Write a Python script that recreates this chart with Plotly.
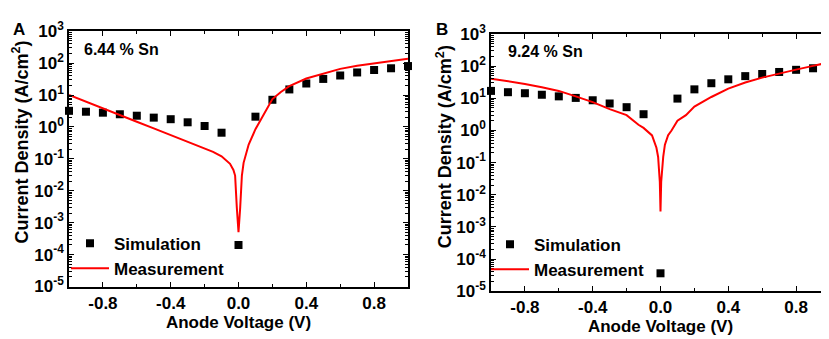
import plotly.graph_objects as go

# ---------------- data ----------------
sim_v = [-1.0, -0.9, -0.8, -0.7, -0.6, -0.5, -0.4, -0.3, -0.2, -0.1, 0.0,
         0.1, 0.2, 0.3, 0.4, 0.5, 0.6, 0.7, 0.8, 0.9, 1.0]
sim_a = [3.2, 3.0, 2.8, 2.5, 2.25, 1.96, 1.75, 1.4, 1.07, 0.66, 2.0e-4,
         2.1, 7.1, 15, 23, 32, 41, 51, 61, 69, 81]
sim_b = [17, 15.5, 14.4, 12.9, 11.5, 10.3, 8.7, 6.9, 5.3, 3.2, 3.6e-5,
         9.8, 19, 29.5, 39, 49, 57, 66, 77, 86, 96]

meas_a_v = [-1.0, -0.9, -0.8, -0.7, -0.6, -0.5, -0.4, -0.3, -0.2, -0.15, -0.1,
            -0.07, -0.05, -0.03, -0.02, -0.01, 0.0, 0.01, 0.02, 0.03, 0.06,
            0.1, 0.15, 0.2, 0.25, 0.3, 0.4, 0.5, 0.6, 0.7, 0.8, 0.9, 1.0]
meas_a = [10.0, 6.1, 3.8, 2.4, 1.45, 0.9, 0.56, 0.35, 0.22, 0.165, 0.12,
          0.09, 0.07, 0.045, 0.03, 3e-3, 5e-4, 3e-3, 0.03, 0.075, 0.28,
          0.85, 2.5, 7.5, 12.5, 19, 33, 48, 66, 83, 100, 118, 138]

meas_b_v = [-1.0, -0.9, -0.8, -0.7, -0.6, -0.5, -0.4, -0.3, -0.2, -0.13, -0.1,
            -0.05, -0.024, -0.014, -0.004, 0.0, 0.004, 0.016, 0.026, 0.045,
            0.065, 0.1, 0.15, 0.2, 0.3, 0.4, 0.5, 0.6, 0.7, 0.8, 0.9, 1.0]
meas_b = [41, 34, 28, 22, 17, 11.5, 7.6, 4.6, 3.0, 1.5, 1.2,
          0.7, 0.29, 0.15, 0.025, 3e-3, 0.025, 0.15, 0.36, 0.71,
          1.0, 2.0, 3.0, 5.5, 11, 20, 31, 44, 60, 78, 102, 134]

x_tickvals = [-0.8, -0.4, 0.0, 0.4, 0.8]
x_ticktext = ["-0.8", "-0.4", "0.0", "0.4", "0.8"]
y_exps = [-5, -4, -3, -2, -1, 0, 1, 2, 3]
panel_labels = ["A", "B"]
sn_labels = ["6.44 % Sn", "9.24 % Sn"]
legend_names = ["Simulation", "Measurement"]
x_title = "Anode Voltage (V)"
y_title = "Current Density (A/cm<sup>2</sup>)"

# ---------------- figure ----------------
FONT = "Arial, Liberation Sans, sans-serif"
W, H = 829, 339

fig = go.Figure()

sims = [sim_a, sim_b]
meas = [(meas_a_v, meas_a), (meas_b_v, meas_b)]
for i in range(2):
    xa = "x" if i == 0 else "x2"
    ya = "y" if i == 0 else "y2"
    lg = "legend" if i == 0 else "legend2"
    fig.add_trace(go.Scatter(
        x=sim_v, y=sims[i], mode="markers", name=legend_names[0],
        marker=dict(symbol="square", size=8, color="black"),
        xaxis=xa, yaxis=ya, legend=lg, cliponaxis=False))
    fig.add_trace(go.Scatter(
        x=meas[i][0], y=meas[i][1], mode="lines", name=legend_names[1],
        line=dict(color="#ff0000", width=2),
        xaxis=xa, yaxis=ya, legend=lg))

y_tickvals = [10.0 ** e for e in y_exps]
y_ticktext = ["10<sup>%d</sup>" % e for e in y_exps]
minor_vals = [k * 10.0 ** e for e in y_exps[:-1] for k in range(2, 10)]

def xaxis(domain, anchor):
    return dict(domain=domain, anchor=anchor, range=[-1, 1],
                tickmode="array", tickvals=x_tickvals, ticktext=x_ticktext,
                ticks="inside", ticklen=5, tickwidth=1.3, tickcolor="black",
                minor=dict(tickmode="array", tickvals=[-0.6, -0.2, 0.2, 0.6],
                           ticks="inside", ticklen=3, tickwidth=1.2, tickcolor="black"),
                showline=True, linecolor="black", linewidth=1.5, mirror="allticks",
                showgrid=False, zeroline=False,
                tickfont=dict(family=FONT, size=17, color="black", weight="bold"),
                title=dict(text=x_title, standoff=2,
                           font=dict(family=FONT, size=17, color="black", weight="bold")))

def yaxis(domain, anchor):
    return dict(domain=domain, anchor=anchor, type="log", range=[-5, 3],
                tickmode="array", tickvals=y_tickvals, ticktext=y_ticktext,
                ticks="inside", ticklen=5, tickwidth=1.3, tickcolor="black",
                minor=dict(tickmode="array", tickvals=minor_vals,
                           ticks="inside", ticklen=3, tickwidth=1, tickcolor="black"),
                showline=True, linecolor="black", linewidth=1.5, mirror="allticks",
                showgrid=False, zeroline=False,
                tickfont=dict(family=FONT, size=17, color="black", weight="bold"))

fig.update_layout(
    width=W, height=H,
    margin=dict(l=0, r=0, t=0, b=0),
    paper_bgcolor="white", plot_bgcolor="white",
    xaxis=xaxis([61 / W, 400 / W], "y"),
    yaxis=yaxis([1 - 285 / H, 1 - 12 / H], "x"),
    xaxis2=xaxis([483 / W, 822 / W], "y2"),
    yaxis2=yaxis([1 - 290 / H, 1 - 15 / H], "x2"),
    legend=dict(x=58 / W, y=1 - 220 / H, xanchor="left", yanchor="top",
                bgcolor="rgba(0,0,0,0)", borderwidth=0, tracegroupgap=0,
                itemwidth=38,
                font=dict(family=FONT, size=17, color="black", weight="bold")),
    legend2=dict(x=478 / W, y=1 - 221 / H, xanchor="left", yanchor="top",
                 bgcolor="rgba(0,0,0,0)", borderwidth=0, tracegroupgap=0,
                 itemwidth=38,
                 font=dict(family=FONT, size=17, color="black", weight="bold")),
    showlegend=True,
)

annotations = []
# panel letters
for lab, px in zip(panel_labels, [11, 434]):
    annotations.append(dict(text=lab, x=px / W, y=1 - 10 / H, xref="paper", yref="paper",
                            showarrow=False, xanchor="center", yanchor="middle",
                            font=dict(family=FONT, size=17, color="black", weight="bold")))
# composition labels
for lab, px, py in zip(sn_labels, [74, 498], [32, 34]):
    annotations.append(dict(text=lab, x=px / W, y=1 - py / H, xref="paper", yref="paper",
                            showarrow=False, xanchor="left", yanchor="middle",
                            font=dict(family=FONT, size=16, color="black", weight="bold")))
# y titles
for px, py in zip([13, 436], [131, 136]):
    annotations.append(dict(text=y_title, x=px / W, y=1 - py / H, xref="paper", yref="paper",
                            showarrow=False, xanchor="center", yanchor="middle", textangle=-90,
                            font=dict(family=FONT, size=18, color="black", weight="bold")))
fig.update_layout(annotations=annotations)

fig.write_html("out.html")
